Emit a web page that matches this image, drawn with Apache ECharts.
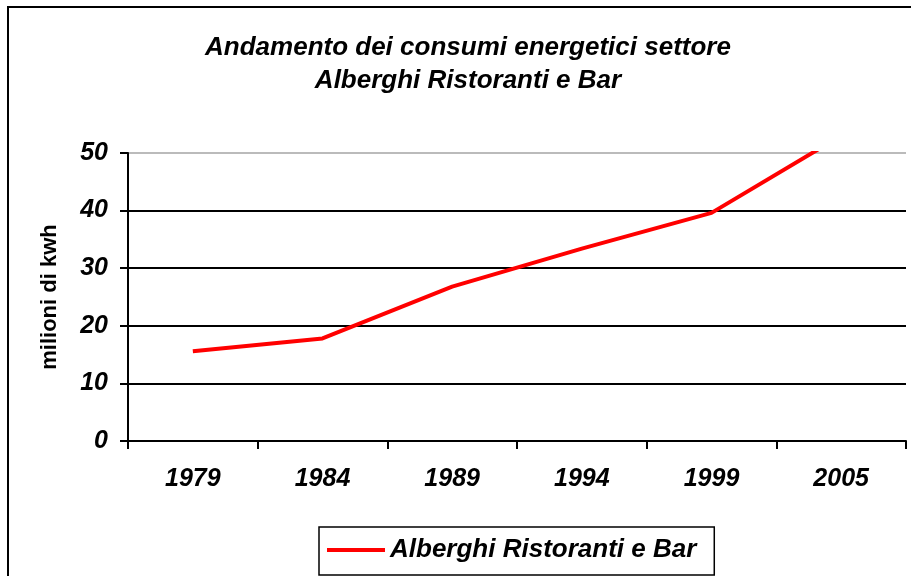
<html>
<head>
<meta charset="UTF-8" />
<title></title>
<script src="https://cdn.jsdelivr.net/npm/echarts@6/dist/echarts.min.js"></script>
<style type="text/css">
html,body{ margin:0; padding:0; background:#fff;}
#main{ width:911px; height:576px;}
</style>
</head>
<body>
<div id="main"></div>
<script type="text/javascript">
// dati
var anni = ['1979', '1984', '1989', '1994', '1999', '2005'];
var consumi = [15.6, 17.8, 26.8, 33.4, 39.6, 53];
var nomeSerie = 'Alberghi Ristoranti e Bar';
var tickY = [0, 10, 20, 30, 40, 50];

var font = '"Liberation Sans", Arial, sans-serif';
var myChart = echarts.init(document.getElementById('main'));

myChart.setOption({
    animation: false,
    backgroundColor: '#fff',
    graphic: [{
        type: 'polyline',
        shape: { points: [[8, 580], [8, 7], [915, 7]] },
        style: { stroke: '#000', lineWidth: 2, fill: null }
    }],
    title: {
        text: 'Andamento dei consumi energetici settore\nAlberghi Ristoranti e Bar',
        left: 463,
        textAlign: 'center',
        top: 26,
        textStyle: {
            fontFamily: font,
            fontSize: 26,
            fontWeight: 'bold',
            fontStyle: 'italic',
            color: '#000',
            lineHeight: 33
        }
    },
    legend: {
        data: [{ name: nomeSerie, icon: 'rect' }],
        left: 319,
        top: 527,
        padding: [10, 18, 12, 8],
        borderColor: '#000',
        borderWidth: 1.5,
        itemWidth: 58,
        itemHeight: 4,
        itemGap: 5,
        textStyle: {
            fontFamily: font,
            fontSize: 26,
            fontWeight: 'bold',
            fontStyle: 'italic',
            color: '#000'
        }
    },
    grid: {
        left: 128,
        right: 5,
        top: 153,
        bottom: 135,
        containLabel: false
    },
    xAxis: {
        type: 'category',
        data: anni,
        boundaryGap: true,
        axisLine: { lineStyle: { color: '#000', width: 2 } },
        axisTick: { show: true, length: 8, lineStyle: { color: '#000', width: 2 } },
        axisLabel: {
            margin: 26,
            fontFamily: font,
            fontSize: 25,
            fontWeight: 'bold',
            fontStyle: 'italic',
            color: '#000'
        }
    },
    yAxis: {
        type: 'value',
        min: tickY[0],
        max: tickY[tickY.length - 1],
        interval: 10,
        name: 'milioni di kwh',
        nameLocation: 'middle',
        nameGap: 67,
        nameTextStyle: {
            fontFamily: font,
            fontSize: 22,
            fontWeight: 'bold',
            color: '#000'
        },
        axisLine: { show: true, lineStyle: { color: '#000', width: 2 } },
        axisTick: { show: true, length: 8, lineStyle: { color: '#000', width: 2 } },
        splitLine: {
            show: true,
            lineStyle: { color: ['#000', '#000', '#000', '#000', '#000', '#bbb'], width: 2 }
        },
        axisLabel: {
            margin: 20,
            fontFamily: font,
            fontSize: 25,
            fontWeight: 'bold',
            fontStyle: 'italic',
            color: '#000'
        }
    },
    series: [{
        name: nomeSerie,
        type: 'line',
        data: consumi,
        symbol: 'none',
        clip: true,
        lineStyle: { color: '#ff0000', width: 4 },
        itemStyle: { color: '#ff0000' }
    }]
});
</script>
</body>
</html>
